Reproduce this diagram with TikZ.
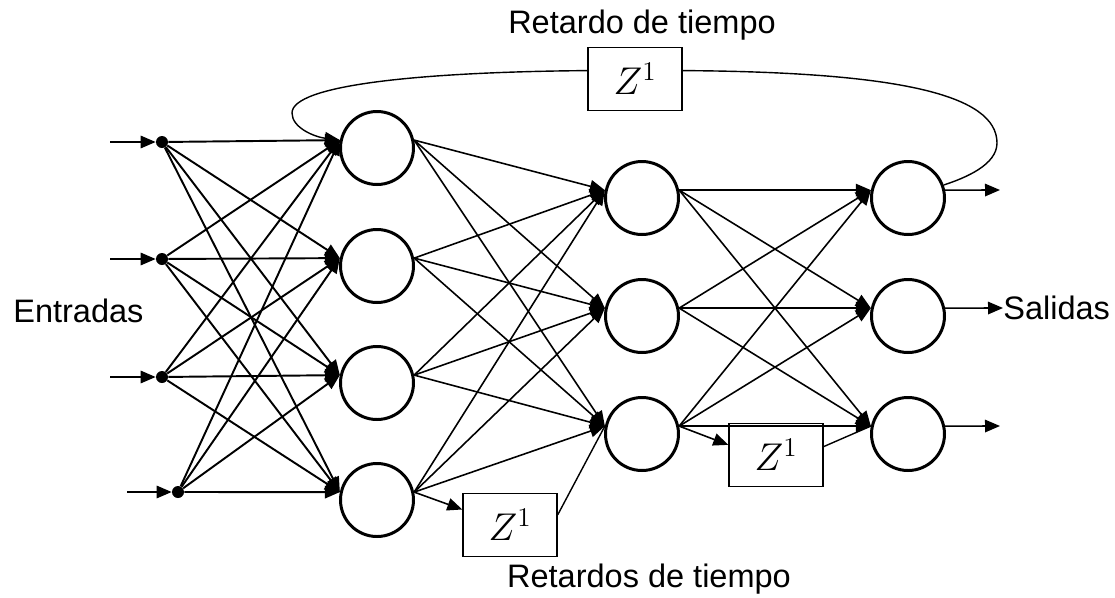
\documentclass[tikz,border=0pt]{standalone}
\usepackage{fix-cm}
\usepackage{fontspec}
\setmainfont{Liberation Sans}
\usetikzlibrary{arrows.meta}

\begin{document}
\begin{tikzpicture}
\tikzset{neuron/.style={circle, draw, line width=1.7pt, minimum size=1.46cm, inner sep=0pt},
 indot/.style={circle, fill, inner sep=0pt, minimum size=0.24cm},
 delay/.style={draw, line width=0.8pt, minimum width=1.88cm, minimum height=1.26cm, inner sep=0pt, font=\fontsize{22}{24}\selectfont},
 syn/.style={line width=0.9pt, -{Triangle[length=0.3cm,width=0.25cm]}},
 lbl/.style={font=\fontsize{18.5}{22}\selectfont, inner sep=0pt}}
\useasboundingbox (0,0) rectangle (22.3,-11.94);

% inputs
\coordinate (s1) at (2.2,-2.84);
\coordinate (s2) at (2.2,-5.18);
\coordinate (s3) at (2.2,-7.54);
\coordinate (s4) at (2.54,-9.84);
\node[indot] (i1) at (3.24,-2.84) {};
\node[indot] (i2) at (3.24,-5.18) {};
\node[indot] (i3) at (3.24,-7.54) {};
\node[indot] (i4) at (3.56,-9.84) {};

% layers
\node[neuron] (h1) at (7.54,-2.96) {};
\node[neuron] (h2) at (7.54,-5.32) {};
\node[neuron] (h3) at (7.54,-7.66) {};
\node[neuron] (h4) at (7.54,-10.0) {};
\node[neuron] (g1) at (12.84,-3.96) {};
\node[neuron] (g2) at (12.84,-6.32) {};
\node[neuron] (g3) at (12.84,-8.68) {};
\node[neuron] (o1) at (18.16,-3.96) {};
\node[neuron] (o2) at (18.16,-6.32) {};
\node[neuron] (o3) at (18.16,-8.68) {};

% delays
\node[delay] (td) at (12.7,-1.58) {$Z^1$};
\node[delay] (bd) at (10.2,-10.5) {$Z^1$};
\node[delay] (rd) at (15.52,-9.1) {$Z^1$};

\foreach \k in {1,...,4} \draw[syn] (s\k) -- (i\k);
\foreach \a in {1,...,4} \foreach \b in {1,...,4} \draw[syn, line width=1.1pt] (i\a) -- (h\b.168);
\foreach \a in {1,...,4} \foreach \b in {1,2,3} \draw[syn] (h\a.12) -- (g\b.168);
\foreach \a in {1,2,3} \foreach \b in {1,2,3} \draw[syn] (g\a.12) -- (o\b.168);

\draw[syn] (h4.12) -- (bd.162);
\draw[line width=0.8pt] (bd.12) -- (g3.168);
\draw[syn] (g3.12) -- (rd.168);
\draw[line width=0.8pt] (rd.10) -- (o3.168);

% feedback loop
\draw[line width=0.8pt] (td.10) .. controls (18.0,-1.44) and (19.94,-1.9) .. (19.94,-2.86) .. controls (19.94,-3.3) and (19.3,-3.56) .. (o1.20);
\draw[syn, line width=0.8pt] (td.170) .. controls (8.4,-1.44) and (5.84,-1.7) .. (5.84,-2.26) .. controls (5.84,-2.56) and (6.3,-2.74) .. (h1.168);

% outputs
\coordinate (y1) at (20.0,-3.8);
\coordinate (y3) at (20.0,-8.52);
\node[lbl, anchor=west] (sal) at (20.06,-6.16) {Salidas};
\draw[syn] (o1.12) -- (y1);
\draw[syn] (o2.12) -- (sal.west);
\draw[syn] (o3.12) -- (y3);

\node[lbl, anchor=west] (ent) at (0.26,-6.22) {Entradas};
\node[lbl] (top) at (12.84,-0.5) {Retardo de tiempo};
\node[lbl] (bot) at (12.98,-11.58) {Retardos de tiempo};
\end{tikzpicture}
\end{document}
